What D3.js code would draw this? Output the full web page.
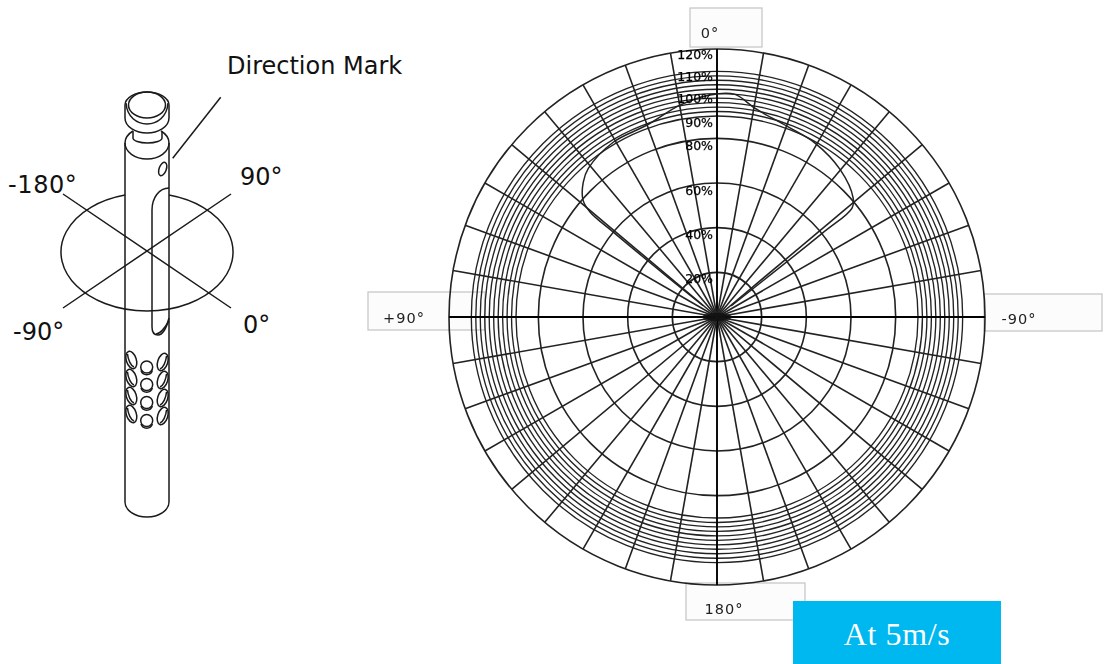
<!DOCTYPE html>
<html>
<head>
<meta charset="utf-8">
<script src="https://cdn.jsdelivr.net/npm/d3@7"></script>
<style>
html,body{margin:0;padding:0;background:#fff;}
svg{display:block;}
.sans{font-family:"DejaVu Sans",sans-serif;}
</style>
</head>
<body>
<svg id="c" width="1107" height="664"></svg>
<script>
// ---- polar chart data ----
const majorRings = [20, 40, 60, 80, 120];
const denseRings = [90, 92, 94, 96, 98, 100, 102, 104, 106, 108, 110];
const spokeAngles = d3.range(0, 360, 10);
const radialTickValues = [120, 110, 100, 90, 80, 60, 40, 20];
const radialTickY = [54, 76, 98, 122, 145, 190, 234, 278];
const patternAngles = [51, 51, 50.7, 50.4, 48.9, 44.8, 40.9, 30.7, 20, 9.9, 1.8, -4.6, -10.3, -20.1, -29.4, -39.9, -48.8, -51.1, -51.5, -52];
const patternValues = [8, 30, 60, 73.8, 79.6, 85, 88, 91, 91.5, 96.3, 99.5, 100, 95, 91, 89.4, 86, 81, 77.7, 60.5, 8];
const angleLabels = ["0°", "+90°", "-90°", "180°"];

const svg = d3.select("#c");
const cx = 717, cy = 317;
const r = d3.scaleLinear().domain([0, 120]).range([0, 268]);

// ---- label boxes behind the polar chart ----
const boxes = [
  {t: angleLabels[0], x: 690, y: 8, w: 72, h: 39, tx: 710, ty: 38},
  {t: angleLabels[1], x: 368, y: 292, w: 117, h: 38, tx: 404, ty: 323},
  {t: angleLabels[2], x: 984, y: 294, w: 118, h: 37, tx: 1019, ty: 324},
  {t: angleLabels[3], x: 686, y: 583, w: 119, h: 37, tx: 724, ty: 614}
];
const polar = svg.append("g").style("filter", "blur(0.4px)");
const bx = polar.append("g").selectAll("g").data(boxes).join("g");
bx.append("rect").attr("x", d => d.x).attr("y", d => d.y).attr("width", d => d.w).attr("height", d => d.h)
  .attr("fill", "#fcfcfc").attr("stroke", "#c8c8c8").attr("stroke-width", 1.3);
bx.append("text").attr("class", "sans").attr("x", d => d.tx).attr("y", d => d.ty)
  .attr("text-anchor", "middle").attr("font-size", 14.5).attr("fill", "#222").attr("letter-spacing", 1).text(d => d.t);

// ---- grid ----
const g = polar.append("g").attr("transform", `translate(${cx},${cy})`);
g.selectAll(".major").data(majorRings).join("circle").attr("r", d => r(d))
  .attr("fill", "none").attr("stroke", "#222").attr("stroke-width", 1.6);
g.selectAll(".dense").data(denseRings).join("circle").attr("r", d => r(d))
  .attr("fill", "none").attr("stroke", "#222").attr("stroke-width", 1.35);
g.selectAll(".spoke").data(spokeAngles).join("line")
  .attr("x1", 0).attr("y1", 0)
  .attr("x2", d => r(120) * Math.sin(d * Math.PI / 180))
  .attr("y2", d => -r(120) * Math.cos(d * Math.PI / 180))
  .attr("stroke", d => d % 90 === 0 ? "#000" : "#222")
  .attr("stroke-width", d => d % 90 === 0 ? 1.9 : 1.6);
g.append("ellipse").attr("rx", 15).attr("ry", 4).attr("fill", "#111").attr("opacity", 0.85);

// ---- directional response curve ----
const pts = patternAngles.map((a, i) => [a, patternValues[i]]);
const line = d3.lineRadial()
  .angle(d => -d[0] * Math.PI / 180)
  .radius(d => r(d[1]))
  .curve(d3.curveCatmullRom.alpha(0.5));
g.append("path").attr("d", line(pts)).attr("fill", "none").attr("stroke", "#222").attr("stroke-width", 1.5);

// ---- radial percent labels ----
polar.append("g").selectAll("text").data(radialTickValues).join("text")
  .attr("class", "sans").attr("x", 713).attr("y", (d, i) => radialTickY[i] + 5)
  .attr("text-anchor", "end").attr("font-size", 12.5).attr("fill", "#000").attr("stroke", "#000").attr("stroke-width", 0.25).text(d => d + "%");

// ---- "At 5m/s" badge ----
svg.append("rect").attr("x", 793).attr("y", 601).attr("width", 208).attr("height", 63).attr("fill", "#00b8f0");
svg.append("text").attr("x", 897).attr("y", 645).attr("text-anchor", "middle")
  .attr("font-family", "'Liberation Serif',serif").attr("font-size", 32).attr("letter-spacing", 0.6).attr("fill", "#fff").text("At 5m/s");

// ---- probe illustration ----
const ill = svg.append("g").attr("fill", "none").attr("stroke", "#1a1a1a").attr("stroke-width", 1.5);
const paths = [
  // stem
  "M125 143 V502 A22 15 0 0 0 169 502 V143",
  // shoulder
  "M125 143 A22 16 0 0 0 169 143 C169 137 166 134 161 131 M125 143 C125 137 128 134 133 131",
  // neck
  "M133 131 V138 A14.5 5 0 0 0 162 138 V131",
  // cap
  "M125 105 V118 C125 127 136 133 147 133 C158 133 169 127 169 118 V105 A22 13 0 0 0 125 105 Z",
  "M126 103 C127 117 137 124 147 124 C157 124 167 117 168 103",
  // slot
  "M169 188 C159 188 152 198 152 210 V327 C152 333 155 335 158 335 C163 335 167 326 169 318",
  "M156 334 C161 334 166 326 169 321",
  // big ellipse
  "M125 195 A86 59 0 1 0 169 195",
  // cross
  "M63 308 L231 194 M63 194 L231 308",
  // leader
  "M220.7 97.3 L172.7 158.3"
];
ill.selectAll("path").data(paths).join("path").attr("d", d => d);
ill.append("ellipse").attr("cx", 147).attr("cy", 105).attr("rx", 18.5).attr("ry", 13);
ill.append("ellipse").attr("cx", 162.7).attr("cy", 169).attr("rx", 3.6).attr("ry", 7).attr("transform", "rotate(20 162.7 169)");

const holeRowsLeft = [360, 378, 396, 414];
const holeRowsMid = [367, 384.5, 402.5, 420.5];
const holeRowsRight = [362, 380, 398, 416];
holeRowsLeft.forEach(y => {
  ill.append("ellipse").attr("cx", 131.3).attr("cy", y).attr("rx", 5).attr("ry", 9).attr("transform", `rotate(-18 131.3 ${y})`);
  ill.append("path").attr("d", `M${127.5} ${y - 6} C${128} ${y} ${131} ${y + 6} ${134} ${y + 7}`);
});
holeRowsRight.forEach(y => {
  ill.append("ellipse").attr("cx", 162.7).attr("cy", y).attr("rx", 5).attr("ry", 9).attr("transform", `rotate(18 162.7 ${y})`);
  ill.append("path").attr("d", `M${166.5} ${y - 6} C${166} ${y} ${163} ${y + 6} ${160} ${y + 7}`);
});
holeRowsMid.forEach(y => {
  ill.append("circle").attr("cx", 146.7).attr("cy", y).attr("r", 6);
  ill.append("path").attr("d", `M141 ${y + 2} A6 6 0 0 0 152.4 ${y + 2}`).attr("transform", "translate(0,1.5)");
});

// ---- illustration labels ----
const notes = [
  {t: "Direction Mark", x: 227, y: 74, ls: 0},
  {t: "-180°", x: 8, y: 193, ls: 0.6},
  {t: "90°", x: 240, y: 185, ls: 0},
  {t: "-90°", x: 13, y: 340, ls: 0},
  {t: "0°", x: 243, y: 333, ls: 0}
];
svg.append("g").selectAll("text").data(notes).join("text")
  .attr("font-family", "'DejaVu Sans',sans-serif").attr("font-size", 24).attr("fill", "#111")
  .attr("letter-spacing", d => d.ls)
  .attr("x", d => d.x).attr("y", d => d.y).text(d => d.t);
</script>
</body>
</html>
